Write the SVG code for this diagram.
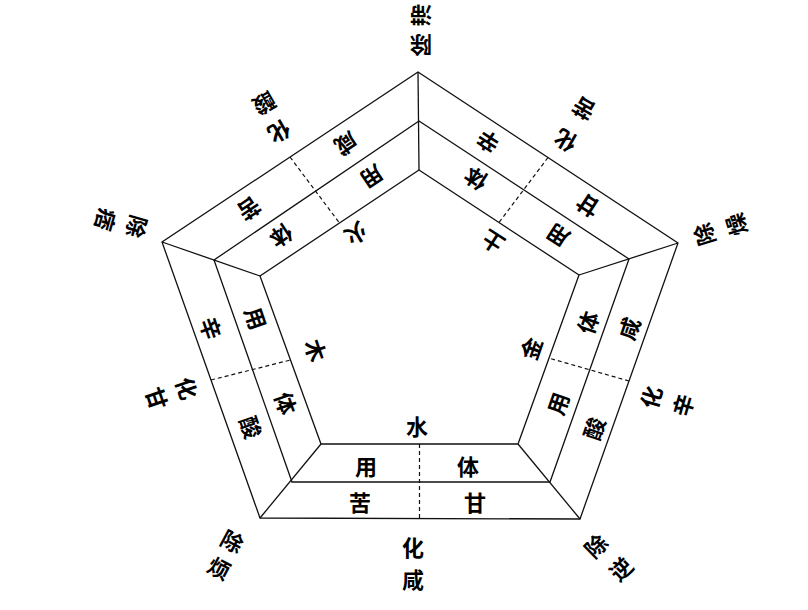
<svg xmlns="http://www.w3.org/2000/svg" width="808" height="610" viewBox="0 0 808 610">
<style>
.ln{fill:none;stroke:#111;stroke-width:1.3;stroke-linejoin:miter}
.ds{fill:none;stroke:#111;stroke-width:1.2;stroke-dasharray:4 3}
text{font-family:"Noto Sans CJK SC","Noto Sans",sans-serif;font-size:22px;fill:#000;text-anchor:middle;dominant-baseline:central;font-weight:bold}
</style>
<rect width="808" height="610" fill="#fff"/>
<g id="frame">
<polygon class="ln" points="418,72 678,243 580,519 260,518 162,242"/>
<polygon class="ln" points="419,121 629,259 550,482 292,482 214,260"/>
<polygon class="ln" points="419,170 579,275 518,444 321,444 260,276"/>
</g>
<g id="connectors">
<line class="ln" x1="418" y1="72" x2="419" y2="170"/>
<line class="ln" x1="678" y1="243" x2="579" y2="275"/>
<line class="ln" x1="580" y1="519" x2="518" y2="444"/>
<line class="ln" x1="260" y1="518" x2="321" y2="444"/>
<line class="ln" x1="162" y1="242" x2="260" y2="276"/>
<line class="ds" x1="290" y1="157" x2="339.5" y2="223"/>
<line class="ds" x1="548" y1="157.5" x2="499" y2="222.5"/>
<line class="ds" x1="629" y1="381" x2="548.5" y2="358"/>
<line class="ds" x1="419.5" y1="518" x2="419.5" y2="444"/>
<line class="ds" x1="211" y1="380" x2="290.5" y2="360"/>
</g>
<g id="water">
<text transform="translate(417,425)">水</text>
<text transform="translate(366,465)">用</text>
<text transform="translate(468,465)">体</text>
<text transform="translate(360,501)">苦</text>
<text transform="translate(475,501)">甘</text>
<text transform="translate(413,546)">化</text>
<text transform="translate(413,578)">咸</text>
</g>
<g id="wood">
<text transform="translate(317,350) rotate(71)">木</text>
<text transform="translate(257,318) rotate(71)">用</text>
<text transform="translate(287,403) rotate(71)">体</text>
<text transform="translate(212,328) rotate(71)">辛</text>
<text transform="translate(252,427) rotate(71)">酸</text>
<text transform="translate(188,388) rotate(71)">化</text>
<text transform="translate(158,398) rotate(71)">甘</text>
</g>
<g id="fire">
<text transform="translate(357,235) rotate(146)">火</text>
<text transform="translate(373,178) rotate(146)">用</text>
<text transform="translate(282,237) rotate(146)">体</text>
<text transform="translate(347,145) rotate(146)">咸</text>
<text transform="translate(250,210) rotate(146)">苦</text>
<text transform="translate(280,133) rotate(150)">化</text>
<text transform="translate(265,105) rotate(150)">酸</text>
</g>
<g id="earth">
<text transform="translate(492,243) rotate(-147)">土</text>
<text transform="translate(475,180) rotate(-147)">体</text>
<text transform="translate(557,237) rotate(-147)">用</text>
<text transform="translate(487,143) rotate(-147)">辛</text>
<text transform="translate(587,207) rotate(-147)">甘</text>
<text transform="translate(565,142) rotate(-150)">化</text>
<text transform="translate(583,110) rotate(-150)">苦</text>
</g>
<g id="metal">
<text transform="translate(530,348) rotate(-71)">金</text>
<text transform="translate(587,322) rotate(-71)">体</text>
<text transform="translate(557,403) rotate(-71)">用</text>
<text transform="translate(628,328) rotate(-71)">咸</text>
<text transform="translate(593,428) rotate(-71)">酸</text>
<text transform="translate(650,397) rotate(-74)">化</text>
<text transform="translate(682,405) rotate(-74)">辛</text>
</g>
<g id="corner-top">
<text transform="translate(421,47) rotate(180)">除</text>
<text transform="translate(421,17) rotate(180)">滞</text>
</g>
<g id="corner-upper-left">
<text transform="translate(138,227) rotate(106)">除</text>
<text transform="translate(107,220) rotate(106)">痞</text>
</g>
<g id="corner-upper-right">
<text transform="translate(703,235) rotate(-107)">除</text>
<text transform="translate(735,225) rotate(-107)">燥</text>
</g>
<g id="corner-lower-left">
<text transform="translate(233,540) rotate(28)">除</text>
<text transform="translate(220,567) rotate(28)">烦</text>
</g>
<g id="corner-lower-right">
<text transform="translate(595,545) rotate(-44)">除</text>
<text transform="translate(620,568) rotate(-44)">逆</text>
</g>
</svg>
